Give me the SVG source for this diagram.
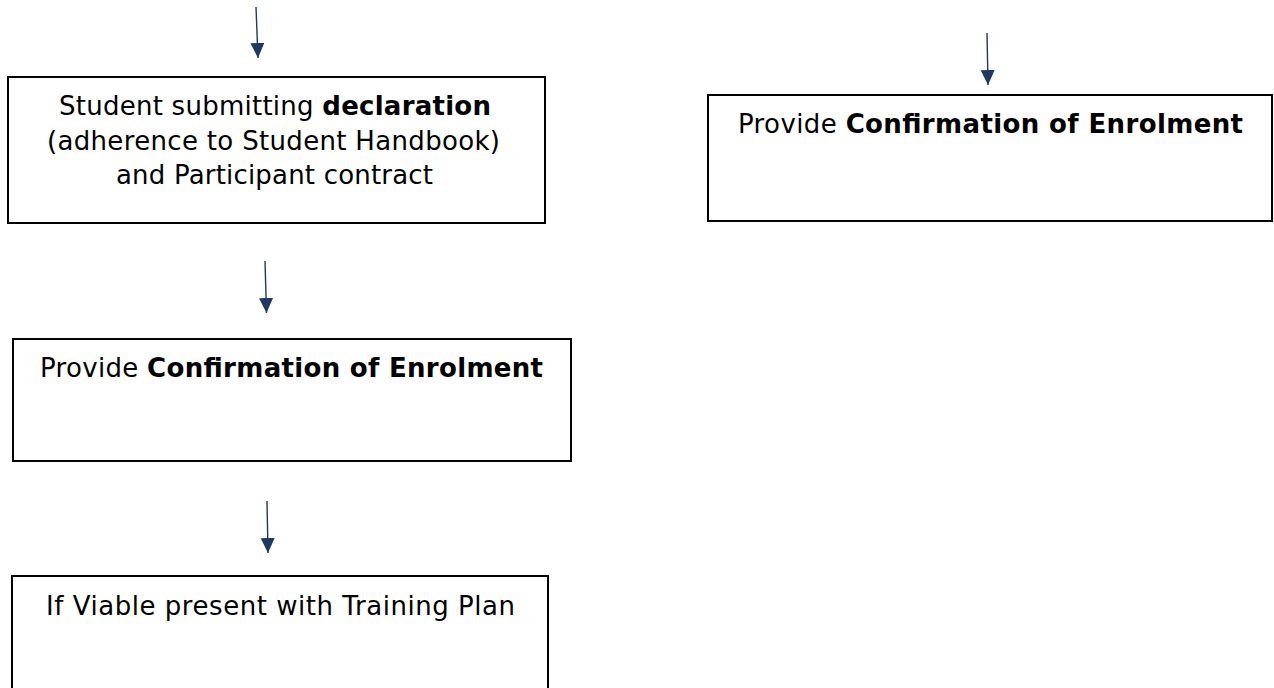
<svg xmlns="http://www.w3.org/2000/svg" width="1274" height="688" viewBox="0 0 1274 688">
<defs>
<marker id="ah" markerUnits="userSpaceOnUse" markerWidth="15" markerHeight="15" refX="15" refY="7" orient="auto">
<path d="M0,0 L15,7 L0,14 Z" fill="#1f3864"/>
</marker>
<style>
.box{fill:#fff;stroke:#000;stroke-width:2}
.t{font-family:"DejaVu Sans","Verdana",sans-serif;font-size:26px;fill:#000;text-anchor:middle}
.b{font-weight:bold}
.cn{stroke:#1f3864;stroke-width:1.4;fill:none;marker-end:url(#ah)}
</style>
</defs>
<rect width="1274" height="688" fill="#fff"/>
<g id="connectors">
<line class="cn" x1="256" y1="7" x2="258" y2="58"/>
<line class="cn" x1="987" y1="33" x2="988" y2="85"/>
<line class="cn" x1="265" y1="261" x2="266.5" y2="313"/>
<line class="cn" x1="267" y1="501" x2="268" y2="553"/>
</g>
<g id="node-declaration">
<rect class="box" x="8" y="77" width="537" height="146"/>
<text class="t" x="275" y="115" textLength="432">Student submitting <tspan class="b">declaration</tspan></text>
<text class="t" x="273.5" y="150" textLength="453">(adherence to Student Handbook)</text>
<text class="t" x="274.5" y="184" textLength="317">and Participant contract</text>
</g>
<g id="node-confirmation-right">
<rect class="box" x="708" y="95" width="564" height="126"/>
<text class="t" x="990.5" y="133" textLength="505">Provide <tspan class="b">Confirmation of Enrolment</tspan></text>
</g>
<g id="node-confirmation-left">
<rect class="box" x="13" y="339" width="558" height="122"/>
<text class="t" x="291.5" y="377" textLength="503">Provide <tspan class="b">Confirmation of Enrolment</tspan></text>
</g>
<g id="node-training-plan">
<rect class="box" x="12" y="576" width="536" height="120"/>
<text class="t" x="280.5" y="615" textLength="469">If Viable present with Training Plan</text>
</g>
</svg>
